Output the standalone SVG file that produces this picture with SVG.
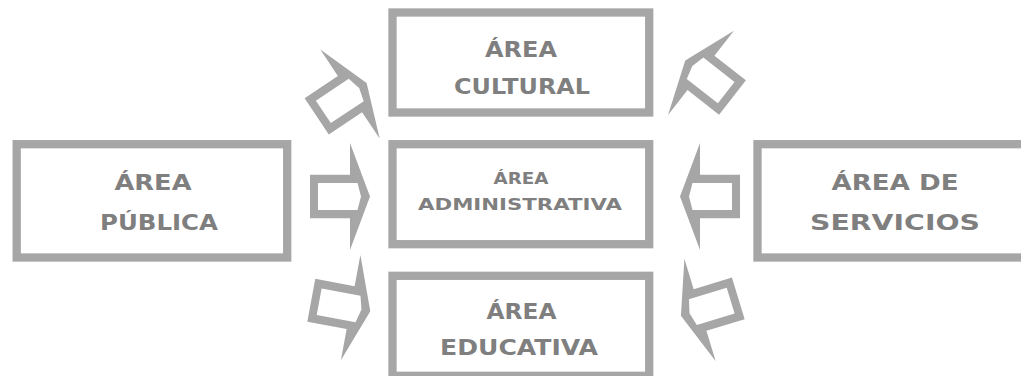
<svg xmlns="http://www.w3.org/2000/svg" xmlns:xlink="http://www.w3.org/1999/xlink" width="1021" height="376" viewBox="0 0 1021 376">
  <style>
    .box { fill: #ffffff; stroke: #a6a6a6; stroke-width: 8.3; }
    .lbl { font-family: 'Comic Sans MS', 'DejaVu Sans', sans-serif; font-weight: bold; fill: #7f7f7f; text-anchor: middle; }
    .big { font-size: 21px; }
    .small { font-size: 16px; }
    .arrow { fill: #a6a6a6; fill-rule: evenodd; }
  </style>
  <defs>
    <path id="arr" class="arrow" d="M0,-21.8 H40 V-53.5 L60,0 L40,53.5 V21.8 H0 Z M8,-13.5 H47.5 L51,0 L47.5,13.5 H8 Z"/>
  </defs>
  <rect width="1021" height="376" fill="#ffffff"/>

  <g id="connectors">
    <use xlink:href="#arr" href="#arr" transform="translate(316.7,116.3) rotate(-33.7)"/>
    <use xlink:href="#arr" href="#arr" transform="translate(732.5,97.5) rotate(38) scale(-1,1)"/>
    <use xlink:href="#arr" href="#arr" transform="translate(310,196.5)"/>
    <use xlink:href="#arr" href="#arr" transform="translate(740,196.5) scale(-1,1)"/>
    <use xlink:href="#arr" href="#arr" transform="translate(311.3,300.3) rotate(10.5)"/>
    <use xlink:href="#arr" href="#arr" transform="translate(738.3,298.3) rotate(-17) scale(-1,1)"/>
  </g>

  <g id="area-cultural">
    <rect class="box" x="392.5" y="12.5" width="256.7" height="100"/>
    <text class="lbl big" x="521" y="57" textLength="72" lengthAdjust="spacingAndGlyphs">ÁREA</text>
    <text class="lbl big" x="522" y="93.5" textLength="136" lengthAdjust="spacingAndGlyphs">CULTURAL</text>
  </g>

  <g id="area-administrativa">
    <rect class="box" x="392.5" y="144.2" width="256.7" height="100"/>
    <text class="lbl small" x="521" y="183.5" textLength="55" lengthAdjust="spacingAndGlyphs">ÁREA</text>
    <text class="lbl small" x="520" y="210" textLength="204" lengthAdjust="spacingAndGlyphs">ADMINISTRATIVA</text>
  </g>

  <g id="area-educativa">
    <rect class="box" x="392.5" y="275.8" width="256.7" height="100"/>
    <text class="lbl big" x="521.5" y="318.5" textLength="70" lengthAdjust="spacingAndGlyphs">ÁREA</text>
    <text class="lbl big" x="519" y="355" textLength="158" lengthAdjust="spacingAndGlyphs">EDUCATIVA</text>
  </g>

  <g id="area-publica">
    <rect class="box" x="16.7" y="144.2" width="270.5" height="113.3"/>
    <text class="lbl big" x="153" y="190" textLength="77" lengthAdjust="spacingAndGlyphs">ÁREA</text>
    <text class="lbl big" x="159" y="230" textLength="118" lengthAdjust="spacingAndGlyphs">PÚBLICA</text>
  </g>

  <g id="area-servicios">
    <rect class="box" x="757.5" y="144.2" width="280" height="113.3"/>
    <text class="lbl big" x="895" y="190" textLength="127" lengthAdjust="spacingAndGlyphs">ÁREA DE</text>
    <text class="lbl big" x="895" y="230" textLength="170" lengthAdjust="spacingAndGlyphs">SERVICIOS</text>
  </g>
</svg>
